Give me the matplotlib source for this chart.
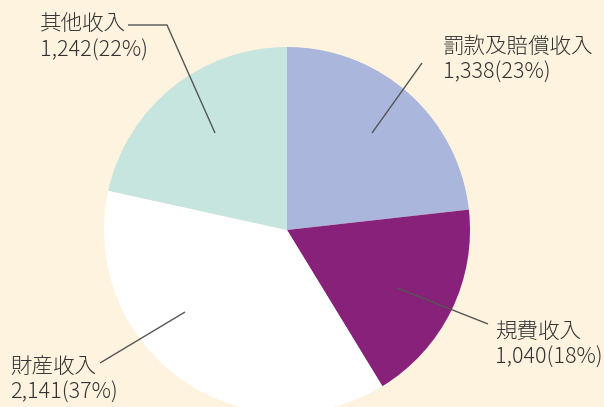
import matplotlib
matplotlib.use("Agg")
import matplotlib.pyplot as plt

# Data
categories = ["罰款及賠償收入", "規費收入", "財産收入", "其他收入"]
values = [1338, 1040, 2141, 1242]
percent_labels = ["23%", "18%", "37%", "22%"]
colors = ["#ABB6DD", "#87217A", "#FFFFFF", "#C5E5DE"]

W, H = 604, 407
BG = "#FDF3DF"
TEXT = "#333333"
LINE = "#555555"

plt.rcParams['font.family'] = ['Noto Sans CJK JP', 'DejaVu Sans']

fig = plt.figure(figsize=(W / 100, H / 100), dpi=100, facecolor=BG)
ax = fig.add_axes([0, 0, 1, 1])
ax.set_facecolor(BG)

cx, cy, R = 287, 230, 183
# y axis inverted (pixel coords): start at -90 (top), counterclock=True => visually clockwise
ax.pie(values, colors=colors, startangle=-90, counterclock=True,
       center=(cx, cy), radius=R, wedgeprops=dict(linewidth=0))
ax.set_xlim(0, W)
ax.set_ylim(H, 0)
ax.set_aspect('auto')
ax.axis('off')

def fmt(v):
    return f"{v:,}"

# label layout: (text left x, line1 center y, leader points)
layout = {
    "罰款及賠償收入": (443, 47, [(372, 133), (422, 63)]),
    "規費收入": (495, 332, [(397, 288), (488, 324)]),
    "財産收入": (10, 367, [(185, 312), (100, 363)]),
    "其他收入": (40, 25, [(215, 133), (167, 25), (128, 25)]),
}

for cat, val, pct in zip(categories, values, percent_labels):
    x, y, pts = layout[cat]
    xs = [p[0] for p in pts]
    ys = [p[1] for p in pts]
    ax.plot(xs, ys, color=LINE, lw=1.0, solid_capstyle='butt')
    ax.text(x, y, cat, fontsize=15.5, color=TEXT, ha='left', va='center',
            fontweight='light')
    ax.text(x, y + 26, f"{fmt(val)}({pct})", fontsize=15.5, color=TEXT,
            ha='left', va='center', fontweight='light')

fig.savefig("out.png", dpi=100, facecolor=BG)
